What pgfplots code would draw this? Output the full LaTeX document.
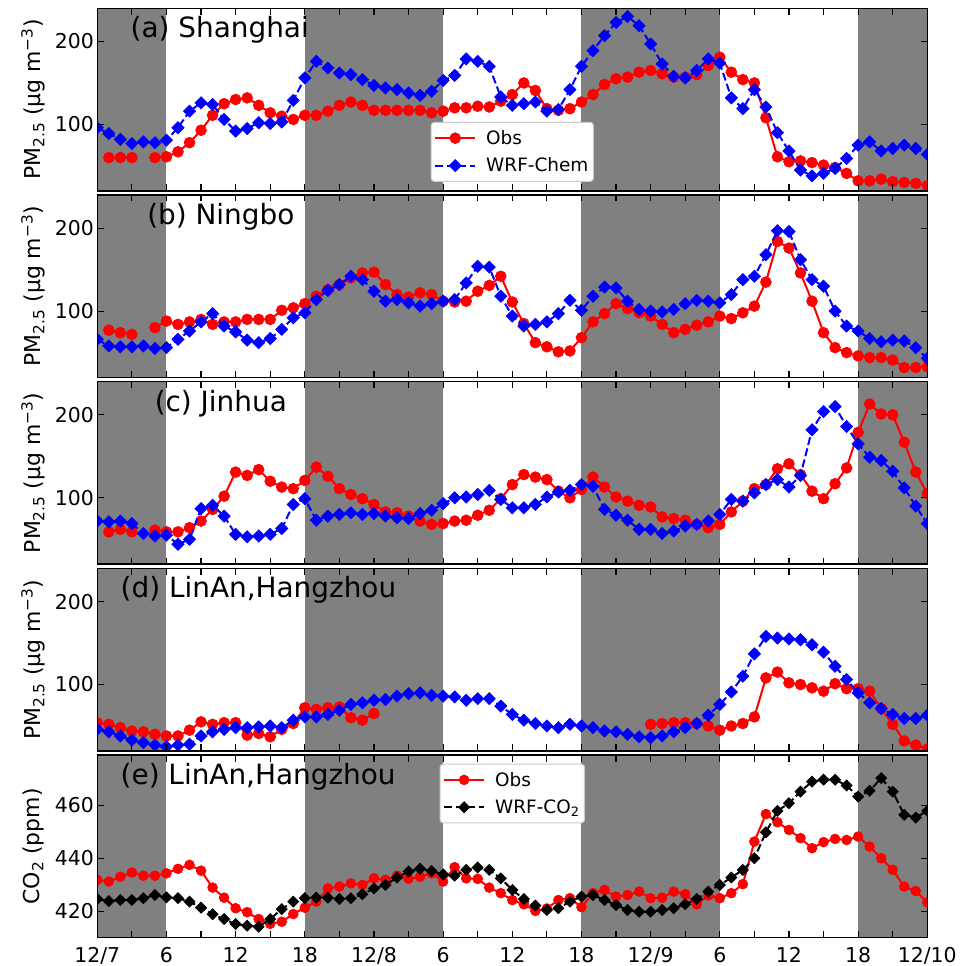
\documentclass[border=0pt]{standalone}
\usepackage{fontspec}
\setmainfont{DejaVu Sans}
\usepackage{pgfplots}
\usepackage{pgfplotstable}
\pgfplotsset{compat=1.18}
\definecolor{mred}{RGB}{255,0,0}
\definecolor{mblue}{RGB}{0,0,255}
\definecolor{shade}{RGB}{128,128,128}
\definecolor{legedge}{RGB}{204,204,204}

\pgfplotstableread{
h o m
0 nan 96
1 60 89
2 60 82
3 60 77
4 nan 79
5 60 78
6 61 81
7 67 96
8 78 116
9 93 126
10 111 124
11 125 106
12 130 92
13 132 95
14 123 102
15 114 101
16 110 103
17 106 129
18 111 156
19 111 176
20 116 168
21 123 162
22 127 160
23 123 154
24 117 147
25 117 144
26 117 142
27 117 138
28 117 135
29 114 140
30 116 153
31 120 159
32 120 179
33 122 176
34 121 170
35 128 133
36 136 123
37 150 125
38 141 127
39 119 116
40 117 118
41 119 142
42 127 170
43 136 189
44 148 207
45 155 223
46 157 230
47 163 219
48 165 197
49 161 173
50 157 158
51 157 156
52 160 165
53 171 179
54 181 174
55 163 132
56 154 119
57 150 142
58 108 121
59 61 90
60 55 68
61 56 45
62 54 38
63 51 41
64 48 47
65 41 59
66 32 75
67 32 79
68 34 68
69 31 71
70 30 75
71 29 71
72 26 64
}\dataA

\pgfplotstableread{
h o m
0 nan 66
1 77 58
2 74 57
3 72 57
4 nan 58
5 80 55
6 88 56
7 84 66
8 87 76
9 90 87
10 84 97
11 87 82
12 87 75
13 90 65
14 90 62
15 90 67
16 101 78
17 104 92
18 109 98
19 118 114
20 126 125
21 132 132
22 140 142
23 146 138
24 147 124
25 132 112
26 120 114
27 117 110
28 122 106
29 120 109
30 112 112
31 111 114
32 112 134
33 124 154
34 131 153
35 142 118
36 111 94
37 85 82
38 62 84
39 57 87
40 51 97
41 52 113
42 68 101
43 87 118
44 97 129
45 109 128
46 103 112
47 98 102
48 94 100
49 84 99
50 74 102
51 78 109
52 83 113
53 87 112
54 94 110
55 91 120
56 98 138
57 106 142
58 135 168
59 184 197
60 176 196
61 146 162
62 112 138
63 74 130
64 56 100
65 50 82
66 46 76
67 44 67
68 44 63
69 41 65
70 32 64
71 32 56
72 33 43
}\dataB

\pgfplotstableread{
h o m
0 nan 72
1 59 71
2 62 72
3 59 69
4 nan 57
5 61 54
6 59 55
7 59 44
8 64 50
9 72 87
10 86 91
11 102 78
12 131 56
13 127 53
14 134 54
15 120 56
16 113 63
17 111 92
18 121 99
19 137 73
20 126 78
21 111 80
22 104 82
23 99 80
24 92 81
25 83 78
26 82 76
27 78 75
28 72 81
29 68 85
30 69 93
31 72 100
32 73 101
33 79 104
34 85 109
35 99 98
36 116 88
37 128 88
38 125 92
39 122 101
40 108 107
41 100 109
42 110 116
43 125 114
44 113 86
45 101 79
46 96 73
47 91 62
48 89 62
49 77 57
50 75 60
51 73 66
52 68 68
53 64 72
54 68 80
55 83 98
56 96 96
57 111 106
58 116 116
59 135 122
60 141 113
61 128 127
62 108 182
63 99 204
64 117 210
65 136 186
66 179 165
67 213 149
68 201 145
69 200 132
70 167 112
71 131 90
72 105 69
}\dataC

\pgfplotstableread{
h o m
0 54 46
1 52 43
2 48 38
3 44 33
4 43 30
5 40 27
6 38 25
7 38 27
8 45 28
9 55 38
10 52 43
11 54 46
12 54 48
13 39 48
14 41 49
15 37 50
16 46 48
17 53 57
18 72 61
19 70 61
20 72 64
21 73 69
22 60 76
23 57 78
24 65 81
25 nan 82
26 nan 86
27 nan 89
28 nan 90
29 nan 87
30 nan 86
31 nan 85
32 nan 81
33 nan 83
34 nan 83
35 nan 74
36 nan 64
37 nan 57
38 nan 53
39 nan 50
40 nan 48
41 nan 52
42 nan 50
43 nan 48
44 nan 44
45 nan 43
46 nan 40
47 nan 37
48 52 36
49 53 38
50 54 43
51 54 48
52 53 53
53 50 63
54 45 76
55 50 91
56 53 110
57 61 137
58 108 158
59 115 156
60 102 155
61 100 154
62 96 148
63 92 139
64 101 122
65 95 106
66 95 90
67 92 78
68 71 71
69 52 64
70 32 59
71 27 59
72 22 63
}\dataD

\pgfplotstableread{
h o m
0 431.8 424.6
1 431.2 423.8
2 433.0 424.2
3 434.6 424.2
4 433.4 424.9
5 433.4 426.1
6 434.3 425.2
7 436.0 424.9
8 437.5 423.6
9 435.3 421.3
10 428.9 418.8
11 425.1 417.0
12 421.1 415.1
13 419.6 414.5
14 417.0 414.1
15 415.2 417.0
16 416.0 420.8
17 418.9 423.6
18 421.3 424.9
19 423.6 425.1
20 428.6 425.1
21 429.3 424.6
22 430.5 424.9
23 429.9 426.4
24 432.4 428.6
25 431.8 429.9
26 433.4 432.7
27 432.2 435.0
28 433.0 436.0
29 434.3 435.2
30 431.2 433.9
31 436.6 433.4
32 432.4 435.6
33 432.2 436.5
34 428.9 435.6
35 426.8 432.4
36 424.2 428.0
37 422.6 424.6
38 420.1 422.1
39 421.0 420.4
40 424.2 421.1
41 424.9 423.6
42 421.5 425.5
43 426.8 426.1
44 428.0 424.2
45 425.5 422.3
46 426.1 420.4
47 427.4 419.8
48 424.9 419.8
49 425.1 420.4
50 427.4 421.1
51 426.4 422.6
52 422.6 424.6
53 425.9 427.4
54 424.9 429.9
55 426.8 432.7
56 430.2 435.6
57 446.3 440.0
58 456.7 449.8
59 453.6 457.9
60 450.7 460.8
61 447.6 465.2
62 443.8 469.0
63 446.1 469.7
64 447.3 469.7
65 446.9 467.5
66 448.2 463.3
67 444.4 465.5
68 440.0 470.3
69 435.6 465.2
70 429.3 456.4
71 427.6 455.4
72 423.3 457.9
}\dataE

\newcommand{\nightshade}[2]{%
  \addplot[fill=shade,draw=none,forget plot] coordinates {(0,#1)(6,#1)(6,#2)(0,#2)};
  \addplot[fill=shade,draw=none,forget plot] coordinates {(18,#1)(30,#1)(30,#2)(18,#2)};
  \addplot[fill=shade,draw=none,forget plot] coordinates {(42,#1)(54,#1)(54,#2)(42,#2)};
  \addplot[fill=shade,draw=none,forget plot] coordinates {(66,#1)(72,#1)(72,#2)(66,#2)};
}

\tikzset{ttl/.style={anchor=west, inner sep=0pt, font=\fontsize{28}{32}\selectfont}}

\pgfplotsset{
  panel/.style={
    width=830bp, height=182.5bp, scale only axis,
    xmin=0, xmax=72, ymin=20, ymax=240,
    xtick={0,3,...,72}, ytick={100,200},
    xticklabels={},
    tick align=inside, major tick length=6.5bp,
    every tick/.style={black, line width=1.2bp},
    axis line style={line width=1.5bp},
    axis on top,
    clip marker paths=true,
    unbounded coords=jump,
    tick label style={font=\fontsize{20.5}{24}\selectfont},
    xticklabel style={yshift=-6bp},
    /pgf/number format/assume math mode=true,
    ylabel style={font=\fontsize{22}{26}\selectfont, at={(axis description cs:-0.0775,0.5)}, anchor=center},
    ylabel={PM\textsubscript{2.5} (µg m\textsuperscript{−3})},
    legend style={font=\fontsize{18.5}{22}\selectfont, draw=legedge, line width=1bp,
      rounded corners=3bp, fill=white, inner xsep=3bp, inner ysep=6bp,
      row sep=8bp, column sep=8bp, cells={anchor=west, inner sep=3bp}},
  },
  limg/.style={legend image code/.code={\draw[mark repeat=2,mark phase=2,##1] plot coordinates {(0bp,0bp)(20bp,0bp)(40bp,0bp)};}},
  obs/.style={limg, color=mred, line width=2bp, mark=*, mark size=5.4bp, mark options={solid, line width=0.7bp, sharp corners}},
  mod/.style={limg, color=mblue, line width=2bp, dash pattern=on 8bp off 3.5bp, mark=square*, mark size=4.3bp, mark options={solid, rotate=45, line width=0.7bp, sharp corners}},
}

\begin{document}
\begin{tikzpicture}
\path[use as bounding box] (0,0) rectangle (965bp,966bp);

\begin{axis}[panel, at={(97.3bp,957.7bp)}, anchor=north west,
  legend style={at={(0.5,0.049)}, anchor=south}]
\nightshade{0}{300}
\addplot[obs] table[x=h,y=o] {\dataA};
\addlegendentry{Obs}
\addplot[mod] table[x=h,y=m] {\dataA};
\addlegendentry{WRF-Chem}
\node[ttl] at (rel axis cs:0.040,0.88) {(a) Shanghai};
\end{axis}

\begin{axis}[panel, at={(97.3bp,771.0bp)}, anchor=north west]
\nightshade{0}{300}
\addplot[obs] table[x=h,y=o] {\dataB};
\addplot[mod] table[x=h,y=m] {\dataB};
\node[ttl] at (rel axis cs:0.060,0.88) {(b) Ningbo};
\end{axis}

\begin{axis}[panel, at={(97.3bp,584.3bp)}, anchor=north west]
\nightshade{0}{300}
\addplot[obs] table[x=h,y=o] {\dataC};
\addplot[mod] table[x=h,y=m] {\dataC};
\node[ttl] at (rel axis cs:0.069,0.88) {(c) Jinhua};
\end{axis}

\begin{axis}[panel, at={(97.3bp,397.6bp)}, anchor=north west]
\nightshade{0}{300}
\addplot[obs] table[x=h,y=o] {\dataD};
\addplot[mod] table[x=h,y=m] {\dataD};
\node[ttl] at (rel axis cs:0.028,0.885) {(d) LinAn,Hangzhou};
\end{axis}

\begin{axis}[panel, at={(97.3bp,210.9bp)}, anchor=north west,
  ymin=410, ymax=479, ytick={420,440,460},
  ylabel={CO\textsubscript{2} (ppm)},
  xticklabels={{12/7},{},{6},{},{12},{},{18},{},{12/8},{},{6},{},{12},{},{18},{},{12/9},{},{6},{},{12},{},{18},{},{12/10}},
  legend style={at={(0.5,0.953)}, anchor=north}]
\nightshade{400}{500}
\addplot[obs, mark size=4.9bp] table[x=h,y=o] {\dataE};
\addlegendentry{Obs}
\addplot[mod, color=black, mark size=3.9bp] table[x=h,y=m] {\dataE};
\addlegendentry{WRF-CO\textsubscript{2}}
\node[ttl] at (rel axis cs:0.028,0.883) {(e) LinAn,Hangzhou};
\end{axis}
\end{tikzpicture}
\end{document}
